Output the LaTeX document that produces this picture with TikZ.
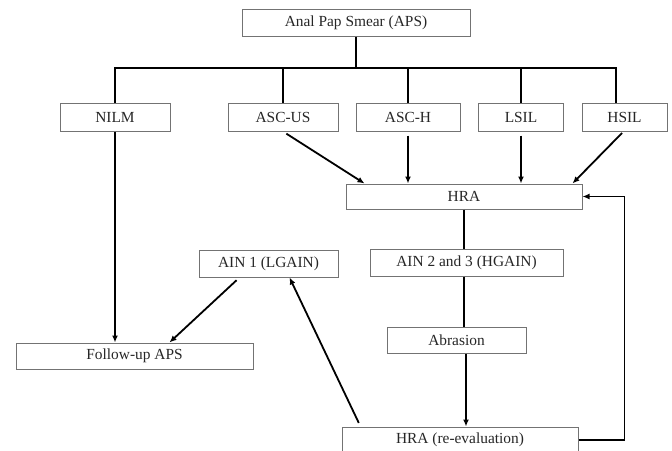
\documentclass[tikz,border=0pt]{standalone}
\usepackage{fontspec}
\setmainfont{Liberation Serif}
\usepackage{tikz}
\usetikzlibrary{positioning}
\usetikzlibrary{arrows.meta}
\usetikzlibrary{calc}
\usepackage{xcolor}

\begin{document}
\begin{tikzpicture}[x=1pt, y=-1pt,
  box/.style={draw=black!55, line width=1pt, rectangle, inner sep=0pt,
    minimum height=26pt, font=\fontsize{15.4}{18}\selectfont, text=black!85},
  link/.style={black, line width=1.8pt},
  arr/.style={link, -{Latex[length=7pt,width=6pt]}}]

\useasboundingbox (0,0) rectangle (672,450);


\begin{scope}
{
\node[box, minimum width=228pt, minimum height=27pt] (aps) at (356,22.5) {Anal Pap Smear (APS)};

\node[box, minimum width=110pt, minimum height=28pt] (nilm) at (115,117) {NILM};
\node[box, minimum width=110pt, minimum height=28pt] (ascus) at (283,117) {ASC-US};
\node[box, minimum width=104pt, minimum height=28pt] (asch) at (408,117) {ASC-H};
\node[box, minimum width=85pt, minimum height=28pt] (lsil) at (521,117) {LSIL};
\node[box, minimum width=85pt, minimum height=28pt] (hsil) at (624.5,117) {HSIL};

\node[box, minimum width=236pt, minimum height=25pt] (hra) at (464,196.5) {HRA};

\node[box, minimum width=139pt, minimum height=27pt] (ain1) at (268.5,263.5) {AIN 1 (LGAIN)};
\node[box, minimum width=193pt, minimum height=27pt] (ain23) at (466.5,262.5) {AIN 2 and 3 (HGAIN)};
\node[box, minimum width=139pt] (abrasion) at (456.5,340) {Abrasion};

\node[box, minimum width=237pt] (followup) at (134.5,356) {Follow-up APS};
\node[box, minimum width=236pt] (reeval) at (460,440) {HRA (re-evaluation)};


\coordinate (bus) at (356,68);
\coordinate (hsilstem) at ($(hsil.north)+(-8.5,0)$);
\coordinate (abrout) at ($(abrasion.south)+(9.5,0)$);

\draw[link] (aps.south) -- (bus);
\draw[link] (nilm.north) -- (nilm.north |- bus) -- (hsilstem |- bus) -- (hsilstem);
\draw[link] (ascus.north) -- (ascus.north |- bus);
\draw[link] (asch.north) -- (asch.north |- bus);
\draw[link] (lsil.north) -- (lsil.north |- bus);


\draw[arr, shorten <=4pt] (ascus.south) -- ($(hra.north west)+(19,0)$);
\draw[arr, shorten <=4pt] (asch.south) -- (asch.south |- hra.north);
\draw[arr, shorten <=4pt] (lsil.south) -- (lsil.south |- hra.north);
\draw[arr, shorten <=2pt] ($(hsil.south)+(-1,0)$) -- ($(hra.north east)+(-10,0)$);


\draw[link] (hra.south) -- (hra.south |- ain23.north);
\draw[link] (hra.south |- ain23.south) -- (hra.south |- abrasion.north);
\draw[arr] (abrout) -- (abrout |- reeval.north);

\draw[arr] (reeval.east) -- ++(46,0) |- (hra.east);
\draw[arr, shorten <=4pt] ($(reeval.north west)+(19,0)$) -- ($(ain1.south west)+(91,0)$);


\draw[arr] (nilm.south) -- (nilm.south |- followup.north);
\draw[arr, shorten <=4pt] ($(ain1.south west)+(41,0)$) -- ($(followup.north west)+(154,0)$);
}
\end{scope}

\end{tikzpicture}
\end{document}
